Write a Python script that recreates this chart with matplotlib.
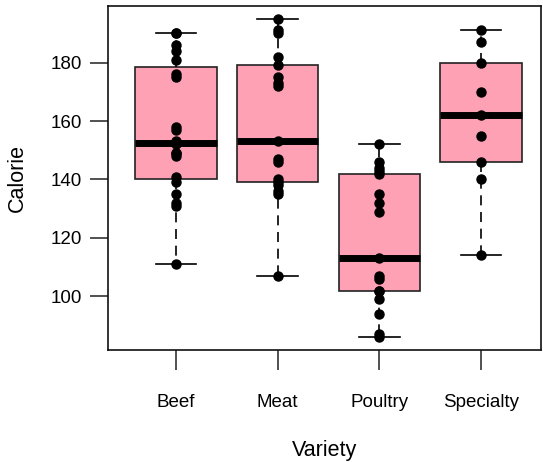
import numpy as np
import matplotlib
matplotlib.use("Agg")
import matplotlib.pyplot as plt

plt.rcParams['font.family'] = ['Liberation Sans', 'DejaVu Sans']

categories = ["Beef", "Meat", "Poultry", "Specialty"]
beef = [186, 181, 176, 149, 184, 190, 158, 139, 175, 148, 152, 111, 141, 153, 190, 157, 131, 149, 135, 132]
meat = [173, 191, 182, 190, 172, 147, 146, 139, 175, 136, 179, 153, 107, 195, 135, 140, 138]
poultry = [129, 132, 102, 106, 94, 102, 87, 99, 107, 113, 135, 142, 86, 143, 152, 146, 144]
specialty = [191, 187, 180, 170, 162, 155, 146, 140, 114]
groups = [beef, meat, poultry, specialty]
yticks = [100, 120, 140, 160, 180]


def fivenum_stats(vals, label):
    x = np.sort(np.asarray(vals, dtype=float))
    n = len(x)
    n4 = np.floor((n + 3) / 2) / 2
    d = np.array([1, n4, (n + 1) / 2, n + 1 - n4, n]) - 1
    f = 0.5 * (x[np.floor(d).astype(int)] + x[np.ceil(d).astype(int)])
    iqr = f[3] - f[1]
    lo = x[x >= f[1] - 1.5 * iqr].min()
    hi = x[x <= f[3] + 1.5 * iqr].max()
    return dict(label=label, med=f[2], q1=f[1], q3=f[3], whislo=lo, whishi=hi, fliers=[])


stats = [fivenum_stats(g, c) for g, c in zip(groups, categories)]

fig = plt.figure(figsize=(5.43, 4.62), dpi=100)
ax = fig.add_axes([108 / 543, 1 - 350 / 462, (541 - 108) / 543, (350 - 6) / 462])

ax.bxp(stats, positions=[1, 2, 3, 4], widths=0.8, patch_artist=True,
       showfliers=False,
       boxprops=dict(facecolor="#FFA1B5", edgecolor="#222222", linewidth=1.2),
       medianprops=dict(color="black", linewidth=5, solid_capstyle="butt"),
       whiskerprops=dict(color="black", linewidth=1.2, linestyle=(0, (6, 4))),
       capprops=dict(color="black", linewidth=1.2),
       capwidths=0.4, zorder=2)

for i, g in enumerate(groups):
    ax.plot(np.full(len(g), i + 1), g, 'o', color="black", markersize=6.5, zorder=3)

ax.set_xlim(0.33, 4.59)
ax.set_ylim(81.64, 199.36)
ax.set_yticks(yticks)
ax.set_yticklabels([str(v) for v in yticks])
ax.set_xticks([1, 2, 3, 4])
ax.set_xticklabels(categories)
ax.tick_params(axis='x', length=14.5, width=1.2, pad=17, labelsize=13.5, color="#333333")
ax.tick_params(axis='y', length=13, width=1.2, pad=6, labelsize=13.5, color="#333333")
for s in ax.spines.values():
    s.set_linewidth(1.2)
    s.set_color("#111111")

ax.set_xlabel("Variety", fontsize=15.5, labelpad=21)
ax.set_ylabel("Calorie", fontsize=15.5, labelpad=16)

fig.savefig("out.png", dpi=100)
